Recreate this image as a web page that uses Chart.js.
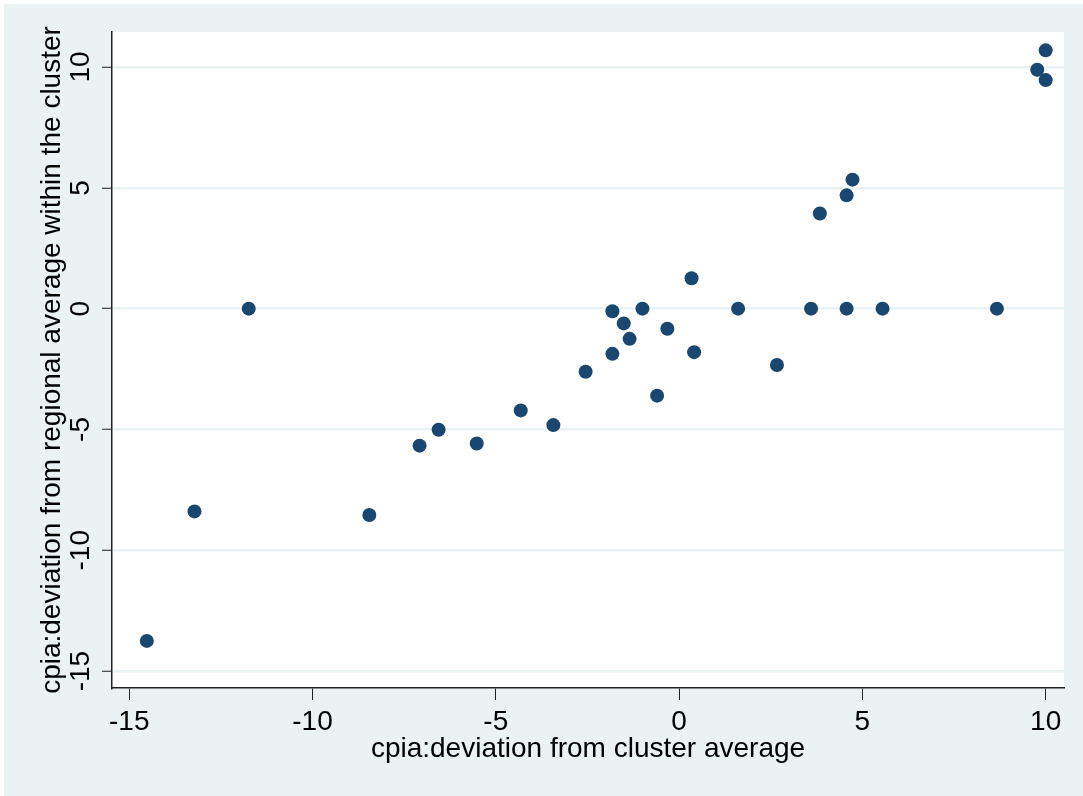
<!DOCTYPE html>
<html>
<head>
<meta charset="utf-8">
<script src="https://cdn.jsdelivr.net/npm/chart.js@4/dist/chart.umd.min.js"></script>
<style>
  html, body { margin: 0; padding: 0; background: #ffffff; }
  #wrap { width: 1083px; height: 796px; position: relative; }
</style>
</head>
<body>
<div id="wrap"><canvas id="c" width="1083" height="796"></canvas></div>
<script>
// ---- data ----
const xValues = [-14.52, -13.22, -11.74, -8.45, -7.08, -6.56, -5.52, -4.32, -3.43, -2.55,
                 -1.82, -1.82, -1.51, -1.35, -1.00, -0.60, -0.32, 0.34, 0.41, 1.61,
                 2.67, 3.60, 3.84, 4.57, 4.57, 4.73, 5.55, 8.67, 9.77, 10.00, 10.00];
const yValues = [-13.75, -8.39, 0.00, -8.54, -5.67, -5.01, -5.58, -4.21, -4.82, -2.61,
                 -0.11, -1.87, -0.61, -1.25, 0.00, -3.60, -0.83, 1.26, -1.80, 0.00,
                 -2.33, 0.00, 3.94, 4.69, 0.00, 5.34, 0.00, 0.00, 9.89, 10.69, 9.46];
const xTickValues = [-15, -10, -5, 0, 5, 10];
const xTickLabels = ['-15', '-10', '-5', '0', '5', '10'];
const yTickValues = [-15, -10, -5, 0, 5, 10];
const yTickLabels = ['-15', '-10', '-5', '0', '5', '10'];
const xTitle = 'cpia:deviation from cluster average';
const yTitle = 'cpia:deviation from regional average within the cluster';

const points = xValues.map((x, i) => ({ x: x, y: yValues[i] }));

const FONT = '"Liberation Sans", Arial, Helvetica, sans-serif';
const PANEL = '#EAF2F3';

const bgPlugin = {
  id: 'bg',
  beforeDraw(chart) {
    const ctx = chart.ctx;
    const a = chart.chartArea;
    ctx.save();
    ctx.fillStyle = '#ffffff';
    ctx.fillRect(0, 0, chart.width, chart.height);
    ctx.fillStyle = PANEL;
    ctx.fillRect(4, 4, chart.width - 4, chart.height - 4);
    ctx.fillStyle = '#ffffff';
    ctx.fillRect(a.left, a.top, a.right - a.left, a.bottom - a.top);
    ctx.restore();
  }
};

Chart.defaults.font.family = FONT;
Chart.defaults.color = '#000000';

new Chart(document.getElementById('c'), {
  type: 'scatter',
  data: {
    datasets: [{
      data: points,
      backgroundColor: '#1A476F',
      borderColor: '#1A476F',
      borderWidth: 0,
      pointRadius: 7,
      pointHoverRadius: 7
    }]
  },
  options: {
    responsive: false,
    animation: false,
    events: [],
    layout: { padding: { left: 4, top: 32, right: 19, bottom: 4 } },
    plugins: { legend: { display: false }, tooltip: { enabled: false } },
    scales: {
      x: {
        type: 'linear',
        min: -15.47,
        max: 10.50,
        afterBuildTicks: (s) => { s.ticks = xTickValues.map(v => ({ value: v })); },
        afterFit: (s) => { s.height = 104; },
        ticks: {
          font: { size: 28 },
          padding: 5,
          maxRotation: 0,
          minRotation: 0,
          callback: (v) => { const i = xTickValues.indexOf(v); return i >= 0 ? xTickLabels[i] : ''; }
        },
        grid: {
          drawOnChartArea: false,
          drawTicks: true,
          tickLength: 12,
          tickColor: '#222222',
          tickWidth: 1
        },
        border: { display: true, color: '#222222', width: 1.5 },
        title: {
          display: true,
          text: xTitle,
          font: { size: 28 },
          padding: { top: 0, bottom: 26 }
        }
      },
      y: {
        type: 'linear',
        min: -15.70,
        max: 11.45,
        afterBuildTicks: (s) => { s.ticks = yTickValues.map(v => ({ value: v })); },
        afterFit: (s) => { s.width = 108; },
        ticks: {
          font: { size: 28 },
          padding: 0,
          minRotation: 90,
          maxRotation: 90,
          crossAlign: 'center',
          callback: (v) => { const i = yTickValues.indexOf(v); return i >= 0 ? yTickLabels[i] : ''; }
        },
        grid: {
          drawOnChartArea: true,
          color: PANEL,
          lineWidth: 2.5,
          drawTicks: true,
          tickLength: 10,
          tickColor: '#222222',
          tickWidth: 1
        },
        border: { display: true, color: '#222222', width: 1.5 },
        title: {
          display: true,
          text: yTitle,
          font: { size: 28 },
          padding: { top: 31, bottom: 0 }
        }
      }
    }
  },
  plugins: [bgPlugin]
});
</script>
</body>
</html>
